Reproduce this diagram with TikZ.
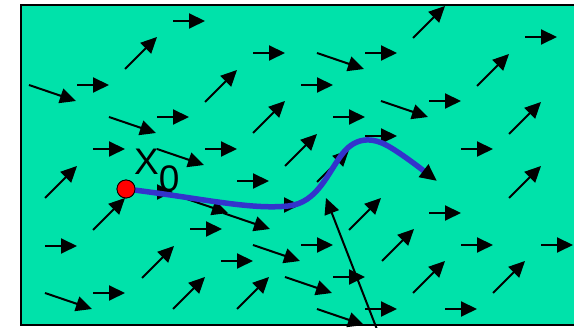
\documentclass[tikz,border=0pt]{standalone}
\usepackage{fontspec}
\setmainfont{Liberation Sans}
\usetikzlibrary{arrows.meta}
\definecolor{field}{RGB}{0,226,170}
\definecolor{pathblue}{RGB}{51,51,204}
\tikzset{
  vec/.style={line width=2pt,-{Triangle[length=16pt,width=15pt]}},
  traj/.style={line width=5.5pt,pathblue,-{Triangle[length=17pt,width=15pt,color=black]}},
  startdot/.style={circle,fill=red,draw=black,line width=0.8pt,minimum size=18pt,inner sep=0pt},
}
\begin{document}
\begin{tikzpicture}[x=1pt,y=-1pt]
\useasboundingbox (0,0) rectangle (574,328);
\begin{scope}
\clip (0,0) rectangle (574,328);
\fill[field] (21,5) rectangle (590,325);
% horizontal arrows
\foreach \x/\y in {173/21,253/53,365/53,525/37,77/85,301/85,157/117,333/117,429/101,
  93/149,205/149,461/149,365/136,237/181,190/229,429/213,268/205,45/246,301/245,
  461/245,541/245,221/261,93/293,333/277,365/309,445/309,141/192}
  \draw[vec] (\x,\y) -- ++(32,0);
% east-south-east arrows
\foreach \x/\y in {29/85,109/117,157/149,317/53,381/101,181/197,223/213,253/245,
  285/277,317/309,45/293}
  \draw[vec] (\x,\y) -- ++(47,16);
% north-east arrows
\foreach \x/\y in {125/69,205/102,253/133,285/166,413/38,477/86,509/134,45/198,
  93/230,142/278,173/309,237/309,349/230,382/261,413/293,493/293,509/198,317/182}
  \draw[vec] (\x,\y) -- ++(32,-32);
% long arrow
\coordinate (ltail) at (378,332);
\coordinate (lhead) at (326,198);
\draw[vec] (ltail) -- (lhead);
\draw[line width=2pt] (590,5) -- (21,5) -- (21,325) -- (590,325);
\end{scope}
% trajectory
\node[startdot] (x0) at (126,189) {};
\draw[traj] (x0.center) .. controls (200,198) and (250,210) .. (288,206)
  .. controls (318,203) and (328,172) .. (343,153)
  .. controls (356,137) and (372,137) .. (388,146)
  .. controls (402,154) and (420,168) .. (437,181);
\node[startdot] at (x0.center) {};
\node[anchor=base west,inner sep=0pt,font=\fontsize{37}{40}\selectfont] (lbl) at (134,175) {X\raisebox{-17pt}{0}};
\end{tikzpicture}
\end{document}
